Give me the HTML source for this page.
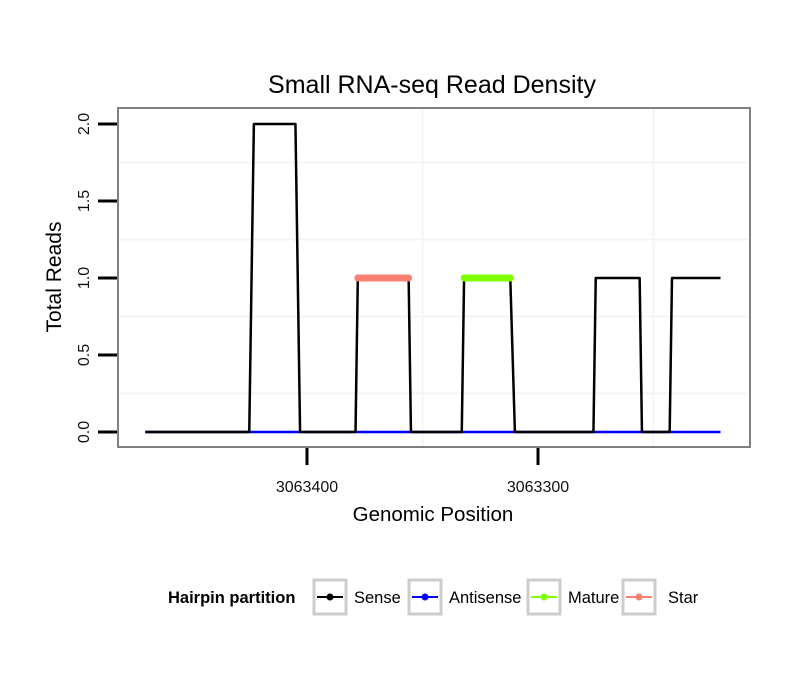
<!DOCTYPE html>
<html><head><meta charset="utf-8"><style>
body{margin:0;background:#fff;font-family:"Liberation Sans",sans-serif}
svg text{font-family:"Liberation Sans",sans-serif}
</style></head><body>
<svg id="chart" width="810" height="690" viewBox="0 0 810 690">
<text x="432" y="93" font-size="25" text-anchor="middle">Small RNA-seq Read Density</text>
<g id="grid"></g>
<rect x="118" y="108" width="632" height="339" fill="none" stroke="#808080" stroke-width="2"/>
<g id="yaxis"></g>
<g id="xaxis"></g>
<g id="series"></g>
<text transform="translate(61,277) rotate(-90)" font-size="21" text-anchor="middle">Total Reads</text>
<text x="433" y="521" font-size="20.5" text-anchor="middle">Genomic Position</text>
<g>
<text x="168" y="603" font-size="16.5" font-weight="bold">Hairpin partition</text>
<g><rect x="314" y="580" width="32" height="34" fill="#fff" stroke="#ccc" stroke-width="3"/><line x1="317" y1="597" x2="343" y2="597" stroke="#000" stroke-width="2"/><circle cx="330" cy="597" r="3.5" fill="#000"/><text x="354" y="603" font-size="16.5">Sense</text></g>
<g><rect x="409" y="580" width="32" height="34" fill="#fff" stroke="#ccc" stroke-width="3"/><line x1="412" y1="597" x2="438" y2="597" stroke="#00f" stroke-width="2"/><circle cx="425" cy="597" r="3.5" fill="#00f"/><text x="449" y="603" font-size="16.5">Antisense</text></g>
<g><rect x="528" y="580" width="32" height="34" fill="#fff" stroke="#ccc" stroke-width="3"/><line x1="531" y1="597" x2="557" y2="597" stroke="#7fff00" stroke-width="2"/><circle cx="544" cy="597" r="3.5" fill="#7fff00"/><text x="568" y="603" font-size="16.5">Mature</text></g>
<g><rect x="623" y="580" width="32" height="34" fill="#fff" stroke="#ccc" stroke-width="3"/><line x1="626" y1="597" x2="652" y2="597" stroke="#fa8072" stroke-width="2"/><circle cx="639" cy="597" r="3.5" fill="#fa8072"/><text x="668" y="603" font-size="16.5">Star</text></g>
</g>
</svg>
<script>
const senseX=[3063470,3063425,3063423,3063405,3063403,3063379,3063378,3063356,3063355,3063333,3063332,3063312,3063310,3063276,3063275,3063256,3063255,3063243,3063242,3063221];
const senseY=[0,0,2,2,0,0,1,1,0,0,1,1,0,0,1,1,0,0,1,1];
const antisenseX=[3063470,3063221];
const antisenseY=[0,0];
const starX=[3063378,3063356];
const starY=[1,1];
const matureX=[3063332,3063312];
const matureY=[1,1];
const yTicks=[0,0.5,1,1.5,2];
const yTickLabels=["0.0","0.5","1.0","1.5","2.0"];
const xTicks=[3063400,3063300];
const xTickLabels=["3063400","3063300"];
const yMinor=[0.25,0.75,1.25,1.75];
const xMinor=[3063350,3063250];

const NS="http://www.w3.org/2000/svg";
function xs(v){return 307+(3063400-v)*2.31;}
function ys(v){return 432-v*154;}
function mk(tag,attrs,parent){const e=document.createElementNS(NS,tag);for(const k in attrs)e.setAttribute(k,attrs[k]);parent.appendChild(e);return e;}
const grid=document.getElementById('grid');
yMinor.forEach(v=>{const l=mk('line',{x1:119,x2:749,y1:ys(v),y2:ys(v),stroke:'#f4f4f4','stroke-width':2},grid);

});
xMinor.forEach(v=>{const l=mk('line',{x1:xs(v),x2:xs(v),y1:109,y2:446,stroke:'#f4f4f4','stroke-width':2},grid);

});
const ya=document.getElementById('yaxis');
yTicks.forEach((v,i)=>{const l=mk('line',{x1:98,x2:117,y1:ys(v),y2:ys(v),stroke:'#000','stroke-width':3},ya);


const t=mk('text',{transform:`translate(89,${ys(v)}) rotate(-90)`,'font-size':16,'text-anchor':'middle',fill:'#111'},ya);t.textContent=yTickLabels[i];

});
const xa=document.getElementById('xaxis');
xTicks.forEach((v,i)=>{const l=mk('line',{x1:xs(v),x2:xs(v),y1:448,y2:465,stroke:'#000','stroke-width':3},xa);


const t=mk('text',{x:xs(v),y:492,'font-size':16,'text-anchor':'middle',fill:'#111'},xa);t.textContent=xTickLabels[i];

});
const s=document.getElementById('series');
function path(X,Y,color,w,name){const d=X.map((x,i)=>(i?'L':'M')+xs(x)+','+ys(Y[i])).join('');
const p=mk('path',{d:d,fill:'none',stroke:color,'stroke-width':w,'stroke-linecap':w>3?'round':'butt','stroke-linejoin':'round'},s);

}
path(antisenseX,antisenseY,'#0000ff',2.5,'antisense-line');
path(senseX,senseY,'#000000',2.5,'sense-line');
path(starX,starY,'#fa8072',7,'star-line');
path(matureX,matureY,'#7fff00',7,'mature-line');
</script>
</body></html>
